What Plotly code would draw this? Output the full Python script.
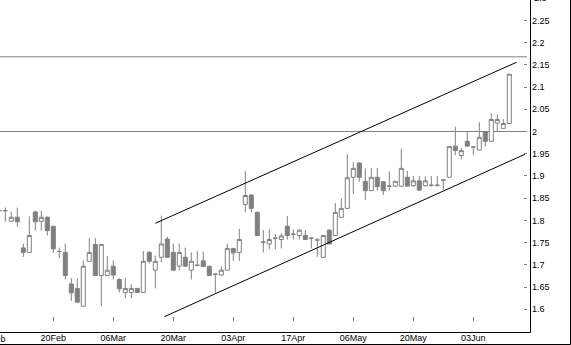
import plotly.graph_objects as go

# Trading-day index (0 = 20 Feb)
day_index = list(range(-9, 77))

open_ = [1.822, 1.822, 1.798, 1.807, 1.738, 1.728, 1.819, 1.798, 1.807,
         1.787, 1.730, 1.728, 1.657, 1.647, 1.607, 1.708, 1.746, 1.676, 1.676,
         1.697, 1.667, 1.638, 1.638, 1.647, 1.638, 1.728, 1.688, 1.717, 1.758,
         1.728, 1.697, 1.717, 1.688, 1.699, 1.709, 1.697, 1.679, 1.677, 1.688,
         1.737, 1.728, 1.836, 1.857, 1.818, 1.751, 1.747, 1.760, 1.757, 1.787,
         1.769, 1.766, 1.766, 1.760, 1.756, 1.717, 1.778, 1.766, 1.807, 1.827,
         1.897, 1.929, 1.888, 1.867, 1.897, 1.887, 1.877, 1.877, 1.877, 1.897,
         1.878, 1.889, 1.878, 1.879, 1.879, 1.891, 1.897, 1.967, 1.946, 1.978,
         1.965, 1.958, 2.000, 1.978, 2.019, 2.007, 2.018]
high = [1.830, 1.829, 1.820, 1.829, 1.748, 1.809, 1.822, 1.822, 1.809,
        1.787, 1.739, 1.748, 1.670, 1.670, 1.710, 1.760, 1.760, 1.746, 1.720,
        1.710, 1.670, 1.670, 1.657, 1.647, 1.731, 1.731, 1.721, 1.811, 1.763,
        1.748, 1.748, 1.739, 1.728, 1.731, 1.730, 1.697, 1.679, 1.697, 1.748,
        1.737, 1.781, 1.911, 1.859, 1.820, 1.778, 1.780, 1.769, 1.771, 1.810,
        1.780, 1.780, 1.778, 1.763, 1.760, 1.766, 1.781, 1.839, 1.850, 1.949,
        1.931, 1.931, 1.917, 1.918, 1.918, 1.887, 1.910, 1.888, 1.961, 1.911,
        1.900, 1.900, 1.899, 1.900, 1.900, 1.891, 1.966, 2.011, 1.963, 2.000,
        1.965, 2.021, 2.000, 2.041, 2.038, 2.028, 2.129]
low = [1.814, 1.797, 1.798, 1.786, 1.718, 1.728, 1.777, 1.777, 1.766,
       1.727, 1.715, 1.667, 1.619, 1.616, 1.607, 1.708, 1.676, 1.607, 1.676,
       1.667, 1.638, 1.625, 1.625, 1.638, 1.638, 1.703, 1.647, 1.706, 1.717,
       1.688, 1.688, 1.697, 1.667, 1.697, 1.696, 1.676, 1.636, 1.676, 1.688,
       1.709, 1.709, 1.818, 1.818, 1.766, 1.728, 1.735, 1.735, 1.737, 1.757,
       1.757, 1.757, 1.756, 1.737, 1.718, 1.717, 1.747, 1.766, 1.807, 1.827,
       1.859, 1.887, 1.846, 1.867, 1.867, 1.857, 1.867, 1.876, 1.876, 1.876,
       1.876, 1.868, 1.876, 1.876, 1.876, 1.868, 1.897, 1.947, 1.937, 1.967,
       1.947, 1.958, 1.966, 1.978, 1.999, 2.007, 2.018]
close = [1.822, 1.822, 1.807, 1.797, 1.728, 1.766, 1.797, 1.807, 1.777,
         1.736, 1.730, 1.676, 1.637, 1.616, 1.697, 1.728, 1.676, 1.746, 1.688,
         1.677, 1.646, 1.647, 1.647, 1.638, 1.708, 1.708, 1.708, 1.747, 1.717,
         1.688, 1.728, 1.697, 1.708, 1.699, 1.696, 1.676, 1.679, 1.688, 1.737,
         1.727, 1.757, 1.856, 1.827, 1.766, 1.751, 1.757, 1.760, 1.765, 1.766,
         1.769, 1.778, 1.757, 1.760, 1.756, 1.766, 1.747, 1.818, 1.827, 1.896,
         1.917, 1.897, 1.867, 1.897, 1.876, 1.867, 1.877, 1.888, 1.917, 1.877,
         1.889, 1.868, 1.889, 1.879, 1.879, 1.891, 1.966, 1.957, 1.957, 1.967,
         1.965, 1.987, 1.978, 2.027, 2.027, 2.018, 2.129]

# Channel lines (trading-day index, price)
upper_x = [17.0, 77.2]
upper_y = [1.7935, 2.1557]
lower_x = [18.5, 78.6]
lower_y = [1.5833, 1.9487]

# Horizontal reference levels
levels = [2.168, 2.0]

tick_vals = [-10, 0, 10, 20, 30, 40, 50, 60, 70]
tick_text = ["06Feb", "20Feb", "06Mar", "20Mar", "03Apr", "17Apr", "06May", "20May", "03Jun"]
y_ticks = [1.6, 1.65, 1.7, 1.75, 1.8, 1.85, 1.9, 1.95, 2.0, 2.05, 2.1, 2.15, 2.2, 2.25]
y_top_tick = 2.3

GRAY = "#808080"
W, H = 571, 345
ML, MR, MT, MB = 0, 44, 0, 24
PW, PH = W - ML - MR, H - MT - MB
XR = [-8.883, 78.95]
YR = [1.5737, 2.2958]

def px2paper_x(px):
    return (px - ML) / PW

def px2paper_y(py):
    return (H - MB - py) / PH

fig = go.Figure()
fig.add_trace(go.Candlestick(
    x=day_index, open=open_, high=high, low=low, close=close,
    increasing=dict(line=dict(color=GRAY, width=1), fillcolor="white"),
    decreasing=dict(line=dict(color=GRAY, width=1), fillcolor=GRAY),
    whiskerwidth=0, showlegend=False, hoverinfo="skip",
))
for xs, ys in ((upper_x, upper_y), (lower_x, lower_y)):
    fig.add_trace(go.Scatter(x=xs, y=ys, mode="lines",
                             line=dict(color="black", width=1),
                             showlegend=False, hoverinfo="skip"))

shapes = []
for lv in levels:
    shapes.append(dict(type="line", xref="paper", yref="y", x0=0, x1=1, y0=lv, y1=lv,
                       line=dict(color=GRAY, width=1), layer="below"))
# inner frame (right & bottom) and outer frame
shapes.append(dict(type="line", xref="paper", yref="paper",
                   x0=px2paper_x(530.5), x1=px2paper_x(530.5), y0=px2paper_y(0), y1=px2paper_y(332.5),
                   line=dict(color="black", width=1)))
shapes.append(dict(type="line", xref="paper", yref="paper",
                   x0=px2paper_x(0), x1=px2paper_x(530.5), y0=px2paper_y(332.5), y1=px2paper_y(332.5),
                   line=dict(color="black", width=1)))
shapes.append(dict(type="line", xref="paper", yref="paper",
                   x0=px2paper_x(570.5), x1=px2paper_x(570.5), y0=px2paper_y(0), y1=px2paper_y(344.5),
                   line=dict(color="black", width=1)))
shapes.append(dict(type="line", xref="paper", yref="paper",
                   x0=px2paper_x(0), x1=px2paper_x(570.5), y0=px2paper_y(344.5), y1=px2paper_y(344.5),
                   line=dict(color="black", width=1)))

font = dict(family="Liberation Sans, Arial, sans-serif", size=9, color="black")

annotations = [
    # partially visible first date label (left of the visible range)
    dict(xref="paper", yref="paper",
         x=(tick_vals[0] - XR[0]) / (XR[1] - XR[0]), y=px2paper_y(338.5),
         text=tick_text[0], showarrow=False, xanchor="center", yanchor="middle", font=font),
    # partially visible top price label
    dict(xref="paper", yref="paper",
         x=px2paper_x(531.5), y=(y_top_tick - YR[0]) / (YR[1] - YR[0]),
         text=f"{y_top_tick:g}", showarrow=False, xanchor="left", yanchor="middle", font=font),
]

fig.update_layout(
    width=W, height=H,
    margin=dict(l=ML, r=MR, t=MT, b=MB, pad=0),
    paper_bgcolor="white", plot_bgcolor="white",
    boxgap=0.33, boxgroupgap=0,
    shapes=shapes, annotations=annotations,
    font=font,
    xaxis=dict(range=XR, tickvals=tick_vals[1:], ticktext=tick_text[1:],
               ticks="inside", ticklen=4, tickcolor=GRAY, tickwidth=1,
               showgrid=False, zeroline=False, showline=False,
               rangeslider=dict(visible=False), ticklabelstandoff=10,
               tickfont=font, fixedrange=True),
    yaxis=dict(range=YR, side="right", tickvals=y_ticks,
               ticktext=[f"{v:g}" for v in y_ticks],
               ticks="inside", ticklen=3, tickcolor=GRAY, tickwidth=1,
               showgrid=False, zeroline=False, showline=False,
               ticklabelstandoff=4, tickfont=font, fixedrange=True),
)

fig.write_html("out.html")
